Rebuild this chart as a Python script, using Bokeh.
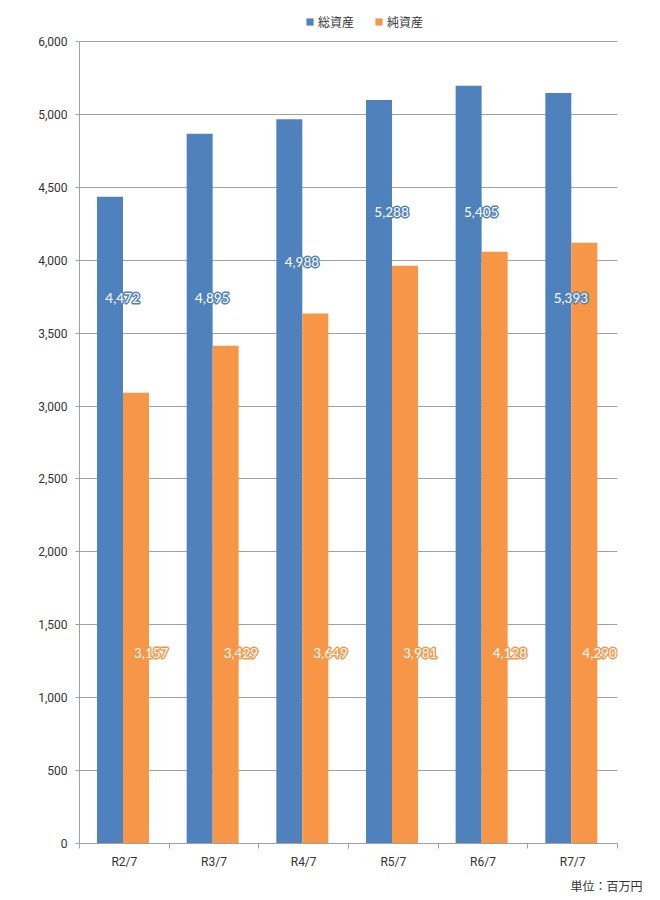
from bokeh.plotting import figure
from bokeh.models import (ColumnDataSource, FixedTicker, Legend, LegendItem,
                          Title, Range1d)
from bokeh.transform import dodge
from bokeh.core.properties import value
from bokeh.embed import file_html
from bokeh.resources import INLINE

# ---- data ----
categories = ["R2/7", "R3/7", "R4/7", "R5/7", "R6/7", "R7/7"]
series_names = ["総資産", "純資産"]
total_assets = [4435, 4868, 4966, 5099, 5197, 5147]      # bar heights as drawn
net_assets = [3091, 3414, 3635, 3962, 4058, 4120]        # bar heights as drawn
total_labels = ["4,472", "4,895", "4,988", "5,288", "5,405", "5,393"]
net_labels = ["3,157", "3,429", "3,649", "3,981", "4,128", "4,290"]
total_label_y = [3743, 3743, 3990, 4333, 4333, 3743]
net_label_y = [1308, 1308, 1308, 1308, 1308, 1308]
y_ticks = [0, 500, 1000, 1500, 2000, 2500, 3000, 3500, 4000, 4500, 5000, 5500]
y_tick_labels = ["0", "500", "1,000", "1,500", "2,000", "2,500", "3,000",
                 "3,500", "4,000", "4,500", "5,000", "6,000"]
unit_text = "単位：百万円"

BLUE = "#4f81bd"
ORANGE = "#f79646"
GRID = "#a0a0a0"
TXT = "#333333"

n = len(categories)
xc = [i + 0.5 for i in range(n)]
src = ColumnDataSource(dict(x=xc, total=total_assets, net=net_assets,
                            tl=total_labels, nl=net_labels,
                            tly=total_label_y, nly=net_label_y))

# frame reaches the top of the canvas so the legend can sit inside it;
# the axis itself stops at the top tick.
y_top = y_ticks[-1] * 843 / 802
p = figure(width=652, height=900, x_range=Range1d(0, n), y_range=Range1d(0, y_top),
           output_backend="svg", toolbar_location=None,
           min_border_left=79, min_border_right=35, min_border_top=0,
           min_border_bottom=57)
p.outline_line_color = None
p.background_fill_color = "white"
p.border_fill_color = "white"

r1 = p.vbar(x=dodge("x", -0.16), top="total", width=0.29, source=src,
            fill_color=BLUE, line_color=None)
r2 = p.vbar(x=dodge("x", 0.13), top="net", width=0.29, source=src,
            fill_color=ORANGE, line_color=None)

# data labels: coloured halo underneath, white text on top
halo_offsets = [(-1, 0), (1, 0), (0, -1), (0, 1), (0, 0)]
for col, ycol, dx, c in (("tl", "tly", -0.02, BLUE), ("nl", "nly", 0.30, ORANGE)):
    for ox, oy in halo_offsets:
        p.text(x=dodge("x", dx), y=ycol, text=col, source=src,
               x_offset=ox, y_offset=oy,
               text_align="center", text_baseline="middle",
               text_font=value("Lato"), text_font_size="13.5px", text_color=c,
               text_outline_color=c)
    p.text(x=dodge("x", dx), y=ycol, text=col, source=src,
           text_align="center", text_baseline="middle",
           text_font=value("Lato"), text_font_size="13.5px", text_color="white")

# y axis
p.yaxis.ticker = FixedTicker(ticks=y_ticks)
p.yaxis.bounds = (y_ticks[0], y_ticks[-1])
p.yaxis.major_label_overrides = dict(zip(y_ticks, y_tick_labels))
p.yaxis.axis_line_color = GRID
p.yaxis.major_tick_line_color = GRID
p.yaxis.major_tick_out = 4
p.yaxis.major_tick_in = 0
p.yaxis.minor_tick_line_color = None
p.yaxis.major_label_standoff = 8
p.yaxis.major_label_text_font = "Roboto"
p.yaxis.major_label_text_font_size = "12px"
p.yaxis.major_label_text_color = TXT
p.ygrid.grid_line_color = GRID
p.ygrid.grid_line_width = 1

# x axis
p.xaxis.ticker = FixedTicker(ticks=xc, minor_ticks=list(range(n + 1)))
p.xaxis.major_label_overrides = dict(zip(xc, categories))
p.xaxis.axis_line_color = GRID
p.xaxis.major_tick_line_color = None
p.xaxis.major_tick_out = 0
p.xaxis.major_tick_in = 0
p.xaxis.minor_tick_line_color = GRID
p.xaxis.minor_tick_out = 5
p.xaxis.minor_tick_in = 0
p.xaxis.major_label_standoff = 6
p.xaxis.major_label_text_font = "Roboto"
p.xaxis.major_label_text_font_size = "12px"
p.xaxis.major_label_text_color = TXT
p.xgrid.visible = False

legend = Legend(items=[LegendItem(label=series_names[0], renderers=[r1]),
                       LegendItem(label=series_names[1], renderers=[r2])],
                orientation="horizontal", location=(226, 813),
                glyph_width=9, glyph_height=9, label_height=12,
                label_standoff=4, spacing=20, padding=0, margin=0,
                border_line_color=None, background_fill_alpha=0,
                label_text_font="Noto Sans CJK JP", label_text_font_size="12px",
                label_text_color=TXT)
p.add_layout(legend, "center")

unit = Title(text=unit_text, align="right", text_font="Noto Sans CJK JP",
             text_font_size="12px", text_font_style="normal",
             text_color=TXT, standoff=7, offset=-25)
p.add_layout(unit, "below")

open("out.html", "w").write(file_html(p, INLINE))
